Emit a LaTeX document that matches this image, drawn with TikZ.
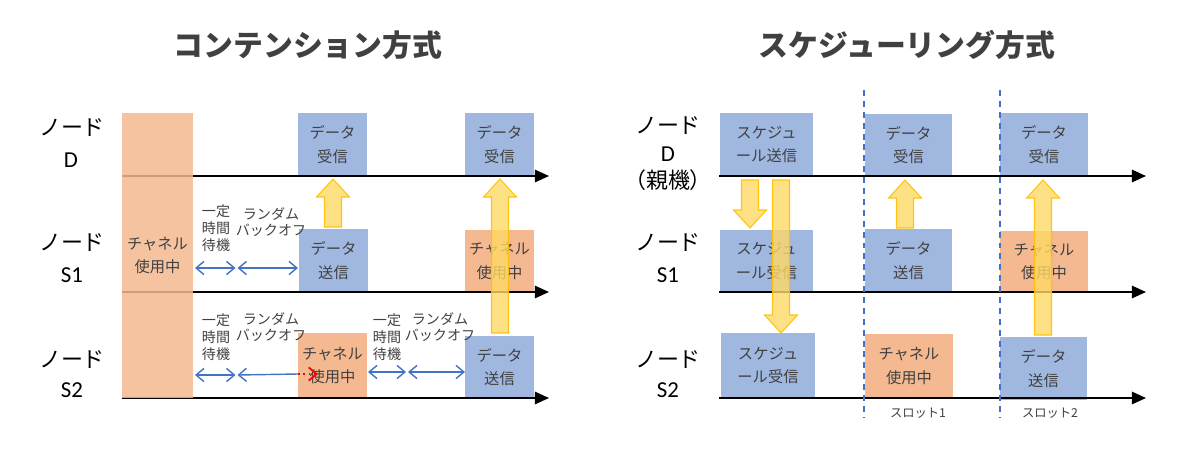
\documentclass[tikz,border=0pt]{standalone}
\usepackage{fontspec}
\newfontfamily\jp{Noto Sans CJK JP}
\newfontfamily\lat{Carlito}
\usetikzlibrary{arrows.meta}
\definecolor{boxblue}{HTML}{A0B7E0}
\definecolor{boxorange}{HTML}{F4B990}
\definecolor{txtgray}{HTML}{404040}
\definecolor{arrowfill}{HTML}{FFD966}
\definecolor{arrowedge}{HTML}{FFC000}
\definecolor{linkblue}{HTML}{4472C4}
\newcommand\blockarrow[3]{% x, y tail, y tip
  \pgfmathsetmacro\hb{#3+18*sign(#2-#3)}
  \draw[blockarr] (#1-8.5,#2) -- (#1-8.5,\hb) -- (#1-16.5,\hb) -- (#1,#3)
     -- (#1+16.5,\hb) -- (#1+8.5,\hb) -- (#1+8.5,#2) -- cycle;}
\tikzset{
  sz/.style 2 args={minimum width=#1*0.02cm, minimum height=#2*0.02cm},
  box/.style={inner sep=0pt, text=txtgray, align=center,
    font=\jp\fontsize{8.7}{13.5}\selectfont},
  bluebox/.style={box, fill=boxblue},
  orangebox/.style={box, fill=boxorange},
  ttl/.style={text=txtgray, font=\jp\bfseries\fontsize{17}{20}\selectfont},
  nodelbl/.style={text=black, font=\jp\fontsize{12.5}{14}\selectfont},
  idlbl/.style={text=black, font=\lat\fontsize{13}{14}\selectfont},
  small/.style={text=txtgray, align=center, inner sep=0pt,
    font=\jp\fontsize{8}{9.5}\selectfont},
  slotlbl/.style={text=txtgray, font=\jp\fontsize{7}{8}\selectfont},
  timeline/.style={line width=1.1pt, -{Triangle[length=8pt,width=7pt]}},
  waitarr/.style={linkblue, line width=0.8pt, {Straight Barb[length=4.5pt,width=7.5pt]}-{Straight Barb[length=4.5pt,width=7.5pt]}},
  waitarrl/.style={linkblue, line width=0.8pt, {Straight Barb[length=4.5pt,width=7.5pt]}-},
  failarr/.style={red, line width=1pt, dotted, -{Straight Barb[length=4.5pt,width=7.5pt]}},
  blockarr/.style={fill=arrowfill, fill opacity=0.8, draw=arrowedge, draw opacity=0.9, line width=0.6pt},
  slotline/.style={linkblue, line width=0.8pt, dash pattern=on 3.4pt off 2.8pt}
}
\begin{document}
\begin{tikzpicture}[x=0.02cm, y=-0.02cm]
\useasboundingbox (0,0) rectangle (1200,457);
% ---------- titles
\node[ttl] (t1) at (308,45) {コンテンション方式};
\node[ttl] (t2) at (907,45) {スケジューリング方式};
% ---------- left labels
\node[nodelbl] (lnD) at (72,128) {ノード};
\node[idlbl] (lD) at (71,160) {D};
\node[nodelbl] (lnS1) at (72,243) {ノード};
\node[idlbl] (lS1) at (72,275) {S1};
\node[nodelbl] (lnS2) at (72,360) {ノード};
\node[idlbl] (lS2) at (72,390) {S2};
% ---------- right labels
\node[nodelbl] (rnD) at (668,126) {ノード};
\node[idlbl] (rD) at (668,154) {D};
\node[nodelbl] (rP) at (668,180) {（親機）};
\node[nodelbl] (rnS1) at (668,243) {ノード};
\node[idlbl] (rS1) at (668,275) {S1};
\node[nodelbl] (rnS2) at (668,360) {ノード};
\node[idlbl] (rS2) at (668,390) {S2};
% ---------- left boxes
\node[bluebox, sz={69}{63}] (ld1) at (332.5,144.5) {データ\\受信};
\node[bluebox, sz={69}{63}] (ld2) at (499.5,144.5) {データ\\受信};
\node[bluebox, sz={69}{63}] (ls1a) at (333.5,260.5) {データ\\送信};
\node[orangebox, sz={69}{62}] (ls1b) at (499.5,261) {チャネル\\使用中};
\node[orangebox, sz={69}{65}] (ls2a) at (332.5,365.5) {チャネル\\使用中};
\node[bluebox, sz={69}{62}] (ls2b) at (499.5,367) {データ\\送信};
% ---------- right boxes
\node[bluebox, sz={93}{63}] (rd0) at (766.5,144.5) {スケジュ\\ール送信};
\node[bluebox, sz={87}{62}] (rd1) at (908.5,145) {データ\\受信};
\node[bluebox, sz={88}{63}] (rd2) at (1044,144.5) {データ\\受信};
\node[bluebox, sz={93}{62}] (rs10) at (766.5,261) {スケジュ\\ール受信};
\node[bluebox, sz={87}{63}] (rs11) at (908.5,260.5) {データ\\送信};
\node[orangebox, sz={88}{61}] (rs12) at (1044,261.5) {チャネル\\使用中};
\node[bluebox, sz={94}{65}] (rs20) at (768,365.5) {スケジュ\\ール受信};
\node[orangebox, sz={88}{64}] (rs21) at (909,366) {チャネル\\使用中};
\node[bluebox, sz={87}{63}] (rs22) at (1043.5,368.5) {データ\\送信};
% ---------- timelines
\coordinate (lD0) at (122,176);  \coordinate (lD1) at (549,176);
\coordinate (lS10) at (122,292); \coordinate (lS11) at (549,292);
\coordinate (lS20) at (122,398); \coordinate (lS21) at (549,398);
\coordinate (rD0) at (719,176);  \coordinate (rD1) at (1146,176);
\coordinate (rS10) at (719,292); \coordinate (rS11) at (1146,292);
\coordinate (rS20) at (719,398); \coordinate (rS21) at (1146,398);
\draw[timeline] (lD0) -- (lD1);
\draw[timeline] (lS10) -- (lS11);
\draw[timeline] (lS20) -- (lS21);
\draw[timeline] (rD0) -- (rD1);
\draw[timeline] (rS10) -- (rS11);
\draw[timeline] (rS20) -- (rS21);
% ---------- channel busy bar
\node[orangebox, sz={71}{285}, fill opacity=0.85, text opacity=1] (bar) at (157.5,255.5) {チャネル\\使用中};
% ---------- waiting labels
\node[small] (w1a) at (216,228) {一定\\時間\\待機};
\node[small] (w1b) at (271,222) {ランダム\\バックオフ};
\node[small] (w2a) at (216,337) {一定\\時間\\待機};
\node[small] (w2b) at (271,327) {ランダム\\バックオフ};
\node[small] (w3a) at (387,337) {一定\\時間\\待機};
\node[small] (w3b) at (440,327) {ランダム\\バックオフ};
% ---------- waiting arrows
\coordinate (a10) at (195,268); \coordinate (a11) at (235.5,268);
\coordinate (a12) at (237.5,268); \coordinate (a13) at (298,268);
\draw[waitarr] (a10) -- (a11);
\draw[waitarr] (a12) -- (a13);
\coordinate (a20) at (195,375); \coordinate (a21) at (235.5,375);
\coordinate (a22) at (237.5,375); \coordinate (a23) at (298,374);
\coordinate (a24) at (318,374);
\draw[waitarr] (a20) -- (a21);
\draw[waitarrl] (a22) -- (a23);
\draw[failarr] (a23) -- (a24);
\coordinate (a30) at (368,372); \coordinate (a31) at (406,372);
\coordinate (a32) at (408,372); \coordinate (a33) at (465,372);
\draw[waitarr] (a30) -- (a31);
\draw[waitarr] (a32) -- (a33);
% ---------- block arrows
\blockarrow{333}{227}{179}
\blockarrow{500}{333}{179}
\blockarrow{750}{180}{228}
\blockarrow{781}{180}{333}
\blockarrow{905}{228}{180}
\blockarrow{1043}{335}{180}
% ---------- slots
\coordinate (s1t) at (864,90); \coordinate (s1b) at (864,418);
\coordinate (s2t) at (1000,90); \coordinate (s2b) at (1000,418);
\draw[slotline] (s1t) -- (s1b);
\draw[slotline] (s2t) -- (s2b);
\node[slotlbl] (sl1) at (918,413) {スロット1};
\node[slotlbl] (sl2) at (1050,413) {スロット2};
\end{tikzpicture}
\end{document}
